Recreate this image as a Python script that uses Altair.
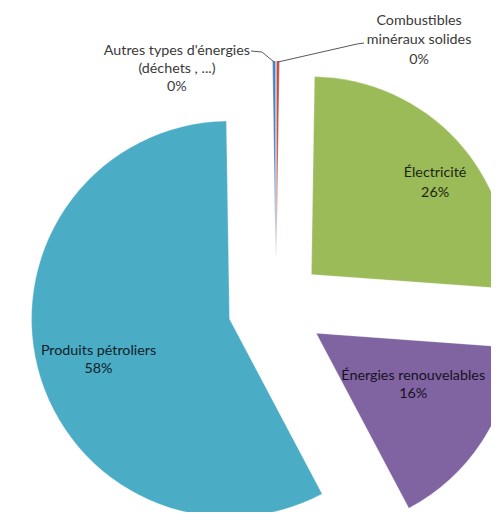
import numpy as np
import pandas as pd
import altair as alt

# ---- data ----
categories = [
    "Combustibles minéraux solides",
    "Électricité",
    "Énergies renouvelables",
    "Produits pétroliers",
    "Autres types d'énergies (déchets , ...)",
]
values = [0.25, 25.9, 16.1, 57.5, 0.25]
label_names = [
    "Combustibles\nminéraux solides",
    "Électricité",
    "Énergies renouvelables",
    "Produits pétroliers",
    "Autres types d'énergies\n(déchets , ...)",
]
colors = ["#C0504D", "#9BBB59", "#8064A2", "#4BACC6", "#4F81BD"]

# ---- layout / style ----
W, H = 483, 504
CX, CY = 268, 299      # pie centre (px, plot coords)
R = 198                # radius
D = 48                 # explosion distance
# label anchor (first-line baseline) offset from each exploded slice vertex
label_offset = [(142.7, -234.5), (123.7, -98.0), (97.0, 46.3), (-131.0, 35.7), (-98.7, -204.5)]
line_height = [19.5, 20, 18.5, 18.5, 18]
outside = [True, False, False, False, True]
leader_offsets = {
    0: [(-62, 19.5), (-55, 18.5)],
    4: [(85, -2.5), (74, -3.5)],
}

total = float(sum(values))
cum = np.cumsum(values)
t0 = cum - np.array(values)
t1 = cum
mid = (t0 + t1) / 2 / total * 2 * np.pi
vx = CX + D * np.sin(mid)
vy = CY - D * np.cos(mid)

df = pd.DataFrame({
    "cat": categories, "value": values, "t0": t0, "t1": t1,
    "vx": vx, "vy": vy,
})

lx = vx + np.array([o[0] for o in label_offset])
ly = vy + np.array([o[1] for o in label_offset])
labels = pd.DataFrame({
    "cat": categories,
    "text": [f"{n}\n{round(v)}%" for n, v in zip(label_names, values)],
    "lx": lx, "ly": ly, "outside": outside, "lh": line_height,
})

rows = []
for i, offs in leader_offsets.items():
    sx = vx[i] + (R - 1) * np.sin(mid[i])
    sy = vy[i] - (R - 1) * np.cos(mid[i])
    pts = [(sx, sy)] + [(lx[i] + dx, ly[i] + dy) for dx, dy in offs]
    for k, (px, py) in enumerate(pts):
        rows.append({"cat": categories[i], "seq": k, "px": px, "py": py})
leaders = pd.DataFrame(rows)

FONT = "Lato"
FS = 14.3

arcs = alt.Chart(df).mark_arc(radius=R, stroke="white", strokeWidth=0.3).encode(
    theta=alt.Theta("t0:Q", scale=alt.Scale(domain=[0, total], range=[0, 2 * np.pi])),
    theta2="t1:Q",
    x=alt.X("vx:Q", scale=None, axis=None),
    y=alt.Y("vy:Q", scale=None, axis=None),
    color=alt.Color("cat:N", scale=alt.Scale(domain=categories, range=colors), legend=None),
)

texts = []
for i in range(len(categories)):
    sub = labels.iloc[[i]]
    texts.append(
        alt.Chart(sub).mark_text(
            font=FONT, fontSize=FS, lineBreak="\n", align="center", baseline="alphabetic",
            color="#3a3a3a" if outside[i] else "black",
            opacity=1 if outside[i] else 0.82,
            lineHeight=line_height[i],
        ).encode(
            x=alt.X("lx:Q", scale=None, axis=None),
            y=alt.Y("ly:Q", scale=None, axis=None),
            text="text:N",
        )
    )

lead = alt.Chart(leaders).mark_line(color="#595959", strokeWidth=1).encode(
    x=alt.X("px:Q", scale=None, axis=None),
    y=alt.Y("py:Q", scale=None, axis=None),
    detail="cat:N",
    order="seq:Q",
)

chart = alt.layer(arcs, lead, *texts).properties(
    width=W, height=H,
    autosize=alt.AutoSizeParams(type="none"),
    padding=0,
).configure_view(stroke=None)

chart.save("out.html", embed_options={"renderer": "svg", "actions": False})
